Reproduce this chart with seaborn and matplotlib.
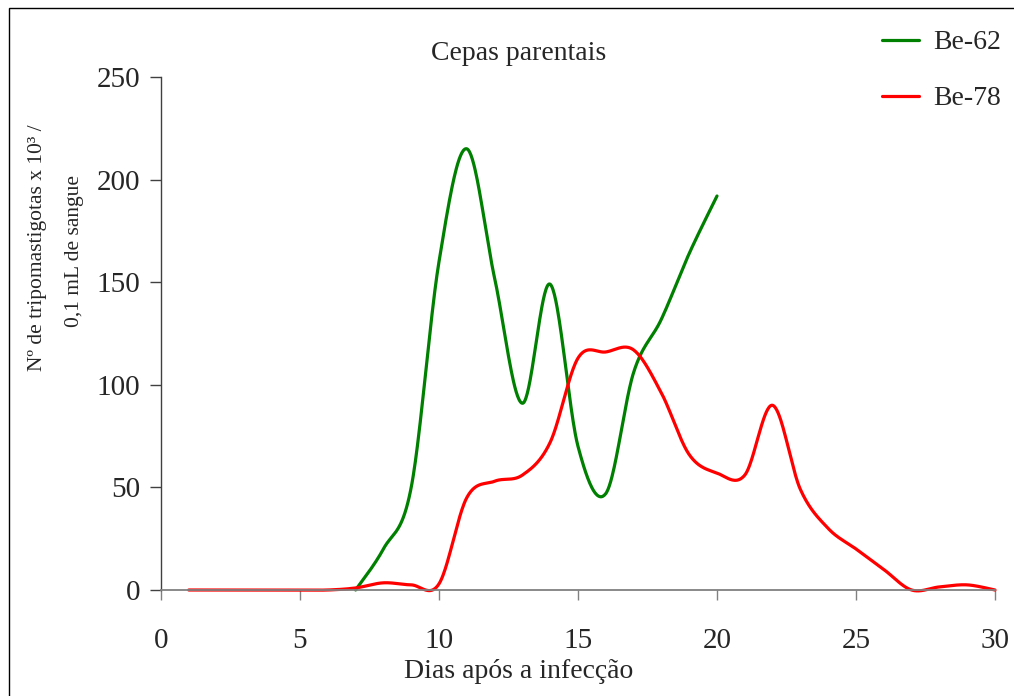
import numpy as np
import pandas as pd
import matplotlib
matplotlib.use("Agg")
import matplotlib.pyplot as plt
from matplotlib.lines import Line2D
from matplotlib.patches import Rectangle
import seaborn as sns

# Parasitaemia (trypomastigotes x 10^3 / 0.1 mL blood) by day after infection
days_be62 = [7, 8, 9, 10, 11, 12, 13, 14, 15, 16, 17, 18, 19, 20]
vals_be62 = [0, 20, 50, 160, 215, 152, 91, 149, 70, 47, 106, 132, 164, 192]

days_be78 = list(range(1, 31))
vals_be78 = [0, 0, 0, 0, 0, 0, 1, 3.5, 2.5, 3, 45, 53, 56, 72, 113, 116, 117, 96,
             66, 57, 56, 90, 49, 30, 20, 10, 0, 1.5, 2.5, 0]

series_names = ["Be-62", "Be-78"]
series_colors = ["#008000", "#FF0000"]
x_ticks = [0, 5, 10, 15, 20, 25, 30]
y_ticks = [0, 50, 100, 150, 200, 250]


def smooth_line(x, y, n=40):
    """Smoothed line through the points (cubic Bezier, Catmull-Rom tangents)."""
    x = np.asarray(x, float)
    y = np.asarray(y, float)
    px = np.concatenate([[x[0]], x, [x[-1]]])
    py = np.concatenate([[y[0]], y, [y[-1]]])
    t = np.linspace(0, 1, n, endpoint=False)
    xs, ys = [], []
    for i in range(1, len(px) - 2):
        p0 = np.array([px[i], py[i]])
        p3 = np.array([px[i + 1], py[i + 1]])
        b1 = p0 + (p3 - np.array([px[i - 1], py[i - 1]])) / 6
        b2 = p3 - (np.array([px[i + 2], py[i + 2]]) - p0) / 6
        pts = ((1 - t) ** 3)[:, None] * p0 + (3 * (1 - t) ** 2 * t)[:, None] * b1 \
            + (3 * (1 - t) * t ** 2)[:, None] * b2 + (t ** 3)[:, None] * p3
        xs.append(pts[:, 0])
        ys.append(pts[:, 1])
    xs.append([x[-1]])
    ys.append([y[-1]])
    return np.concatenate(xs), np.concatenate(ys)


frames = []
for name, dx, dy in [("Be-62", days_be62, vals_be62), ("Be-78", days_be78, vals_be78)]:
    sx, sy = smooth_line(dx, dy)
    frames.append(pd.DataFrame({"dia": sx, "valor": sy, "cepa": name}))
df = pd.concat(frames, ignore_index=True)

sns.set_theme(style="white")
plt.rcParams["font.family"] = ["Liberation Serif", "DejaVu Serif"]

fig = plt.figure(figsize=(10.14, 6.96), dpi=100)
ax = fig.add_axes([161 / 1014, 1 - 590 / 696, (995 - 161) / 1014, (590 - 77) / 696])

sns.lineplot(data=df, x="dia", y="valor", hue="cepa", hue_order=series_names,
             palette=series_colors, sort=False, estimator=None, linewidth=2.3,
             legend=False, ax=ax)
for ln in ax.lines:
    ln.set_clip_on(False)
    ln.set_solid_joinstyle("round")
    ln.set_solid_capstyle("round")

ax.set_xlim(0, 30)
ax.set_ylim(0, 250)
ax.set_xticks(x_ticks)
ax.set_yticks(y_ticks)
ax.set_xlabel("")
ax.set_ylabel("")
for s in ["top", "right"]:
    ax.spines[s].set_visible(False)
ax.spines["left"].set_color("#404040")
ax.spines["bottom"].set_color("#808080")
ax.spines["left"].set_linewidth(1.0)
ax.spines["bottom"].set_linewidth(1.3)
ax.tick_params(axis="y", direction="out", length=8, width=1, color="#404040",
               pad=7, labelsize=21, left=True)
ax.tick_params(axis="x", direction="out", length=7, width=1, color="#808080",
               pad=20, labelsize=21, bottom=True)

fig.text(519 / 1014, 1 - 53 / 696, "Cepas parentais", ha="center", va="center", fontsize=20)
fig.text(519 / 1014, 1 - 671 / 696, "Dias após a infecção", ha="center", va="center",
         fontsize=20)
fig.text(38 / 1014, 1 - 248 / 696, "Nº de tripomastigotas x 10³ /", ha="center",
         va="center", rotation=90, fontsize=15.5)
fig.text(74 / 1014, 1 - 251 / 696, "0,1 mL de sangue", ha="center", va="center",
         rotation=90, fontsize=15.5)

handles = [Line2D([], [], color=c, lw=2.3) for c in series_colors]
fig.legend(handles, series_names, loc="upper left",
           bbox_to_anchor=(882 / 1014, 1 - 30 / 696), borderpad=0, borderaxespad=0,
           frameon=False, fontsize=20, handlelength=1.33, labelspacing=1.1,
           handletextpad=0.5)

fig.patches.append(Rectangle((9 / 1014, -0.2), 2.0, 1.2 - 8 / 696,
                             transform=fig.transFigure, fill=False,
                             edgecolor="black", linewidth=1.0))

fig.savefig("out.png", dpi=100)
